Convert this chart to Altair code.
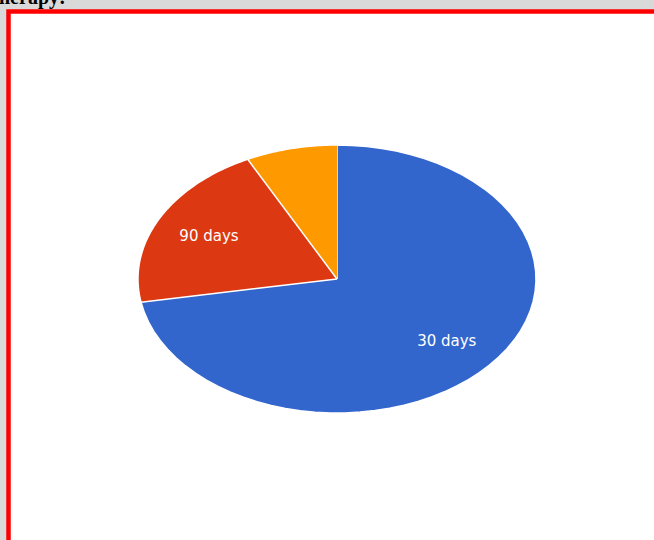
import altair as alt
import pandas as pd

# Data (counts per follow-up interval)
labels = ["30 days", "90 days", "60 days"]
values = [39, 11, 4]
slice_order = [0, 1, 2]
colors = ["#3366cc", "#dc3912", "#ff9900"]
show_label = [True, True, False]
heading = "herapy:"

df = pd.DataFrame({"label": labels, "value": values, "ord": slice_order, "show": show_label})

RX, RY = 199, 134  # ellipse radii (layout)
N = 60

xs = alt.Scale(domain=[-337, 317], nice=False, zero=False)
ys = alt.Scale(domain=[-261, 279], nice=False, zero=False)

base = alt.Chart(df).transform_window(
    cum="sum(value)", sort=[alt.SortField("ord")], frame=[None, 0]
).transform_joinaggregate(
    total="sum(value)"
).transform_calculate(
    a0="(datum.cum - datum.value) / datum.total * 2 * PI",
    a1="datum.cum / datum.total * 2 * PI",
)

wedges = base.transform_calculate(
    steps=f"sequence(-1, {N + 1})"
).transform_flatten(["steps"]).transform_calculate(
    t=f"datum.a0 + (datum.a1 - datum.a0) * datum.steps / {N}",
    px=f"datum.steps < 0 ? 0 : {RX} * sin(datum.t)",
    py=f"datum.steps < 0 ? 0 : {RY} * cos(datum.t)",
).mark_line(stroke="white", strokeWidth=1.5, strokeJoin="round").encode(
    x=alt.X("px:Q", scale=xs, axis=None),
    y=alt.Y("py:Q", scale=ys, axis=None),
    order=alt.Order("steps:Q"),
    fill=alt.Fill("label:N", scale=alt.Scale(domain=labels, range=colors), legend=None),
)

texts = base.transform_filter("datum.show").transform_calculate(
    mid="(datum.a0 + datum.a1) / 2",
    lx=f"0.72 * {RX} * sin(datum.mid)",
    ly=f"0.72 * {RY} * cos(datum.mid)",
).mark_text(font="DejaVu Sans", fontSize=15, color="white", align="center", baseline="middle").encode(
    x=alt.X("lx:Q", scale=xs, axis=None),
    y=alt.Y("ly:Q", scale=ys, axis=None),
    text="label:N",
)

frame = alt.Chart(pd.DataFrame({"k": [0]})).mark_rect(
    fill="white", stroke="#ff0000", strokeWidth=4.5
).encode(x=alt.value(8.5), x2=alt.value(720), y=alt.value(11.5), y2=alt.value(620))

head = alt.Chart(pd.DataFrame({"t": [heading]})).mark_text(
    font="Liberation Serif", fontWeight="bold", fontSize=20, color="black",
    align="left", baseline="alphabetic"
).encode(x=alt.value(-1), y=alt.value(3.5), text="t:N")

chart = alt.layer(frame, head, wedges, texts).properties(
    width=654, height=540, padding=0, autosize=alt.AutoSizeParams(type="none"),
    background="#d9d9d9",
).configure_view(stroke=None)

chart.save("out.html", embed_options={"renderer": "svg", "actions": False})
